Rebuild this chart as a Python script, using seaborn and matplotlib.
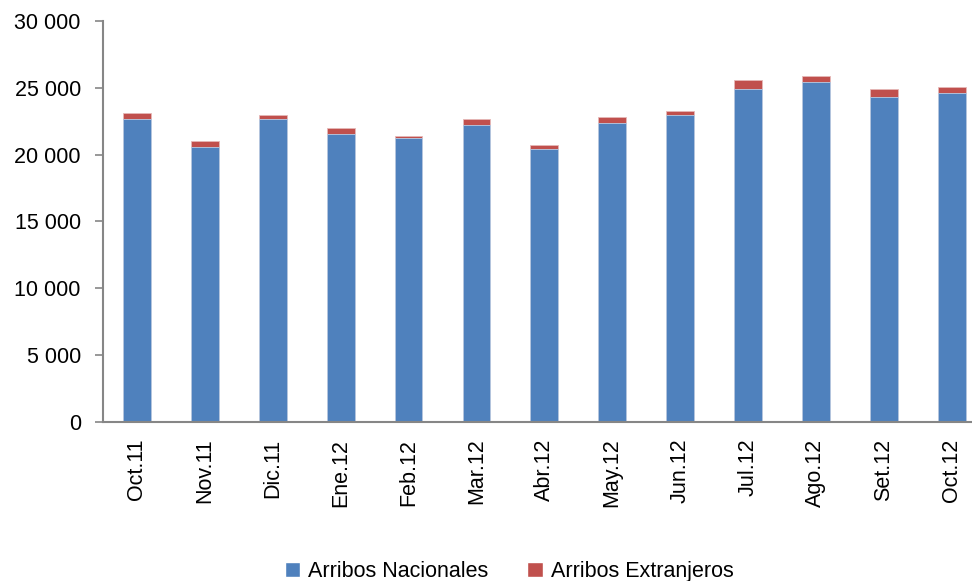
import matplotlib
matplotlib.use("Agg")
import matplotlib.pyplot as plt
import seaborn as sns
import pandas as pd
from matplotlib.patches import Patch
from matplotlib.ticker import FuncFormatter, FixedLocator

meses = ["Oct.11", "Nov.11", "Dic.11", "Ene.12", "Feb.12", "Mar.12", "Abr.12",
         "May.12", "Jun.12", "Jul.12", "Ago.12", "Set.12", "Oct.12"]
nacionales = [22660, 20560, 22660, 21530, 21210, 22210, 20410,
              22360, 22980, 24900, 25400, 24300, 24600]
extranjeros = [470, 470, 320, 480, 170, 470, 300,
               470, 320, 680, 500, 625, 475]

azul = "#4F81BD"
rojo = "#C0504D"
gris = "#868686"

df = pd.DataFrame({"mes": meses, "nac": nacionales, "ext": extranjeros})
df["total"] = df["nac"] + df["ext"]

sns.set_style("white")
plt.rcParams["font.family"] = ["Liberation Sans", "DejaVu Sans"]
plt.rcParams["text.color"] = "black"
plt.rcParams["xtick.labelcolor"] = "black"
plt.rcParams["ytick.labelcolor"] = "black"

fig = plt.figure(figsize=(9.72, 5.81), dpi=100)
ax = fig.add_axes([0.106, 0.2737, 0.908, 0.6902])

# stacked: total in red underneath, nacionales in blue on top
sns.barplot(data=df, x="mes", y="total", color=rojo, saturation=1, width=0.41,
            edgecolor="#E6B8B7", linewidth=0.6, ax=ax)
sns.barplot(data=df, x="mes", y="nac", color=azul, saturation=1, width=0.41,
            edgecolor="#B9CDE5", linewidth=0.6, ax=ax)

ax.set_xlim(-0.5, len(meses) - 0.5)
ax.set_ylim(0, 30000)
ax.set_yticks(range(0, 30001, 5000))
ax.yaxis.set_major_formatter(FuncFormatter(lambda v, p: f"{int(v):,}".replace(",", " ")))
ax.set_xlabel("")
ax.set_ylabel("")

ax.tick_params(axis="x", which="major", length=0, labelsize=15.5, rotation=90, pad=12)
ax.xaxis.set_minor_locator(FixedLocator([i - 0.5 for i in range(len(meses) + 1)]))
ax.tick_params(axis="x", which="minor", length=6, width=1.2, color=gris, direction="out")
ax.tick_params(axis="y", length=6, width=1.2, color=gris, direction="out",
               labelsize=15.5, pad=10)
ax.tick_params(axis="both", bottom=True, left=True)

for s in ["top", "right"]:
    ax.spines[s].set_visible(False)
for s in ["left", "bottom"]:
    ax.spines[s].set_color(gris)
    ax.spines[s].set_linewidth(1.5)

handles = [Patch(facecolor=azul, label="Arribos Nacionales"),
           Patch(facecolor=rojo, label="Arribos Extranjeros")]
fig.legend(handles=handles, loc="lower center", bbox_to_anchor=(0.524, -0.035), ncol=2,
           frameon=False, fontsize=15.5, handlelength=0.7, handleheight=0.7,
           handletextpad=0.4, columnspacing=1.8)

fig.savefig("out.png", dpi=100)
